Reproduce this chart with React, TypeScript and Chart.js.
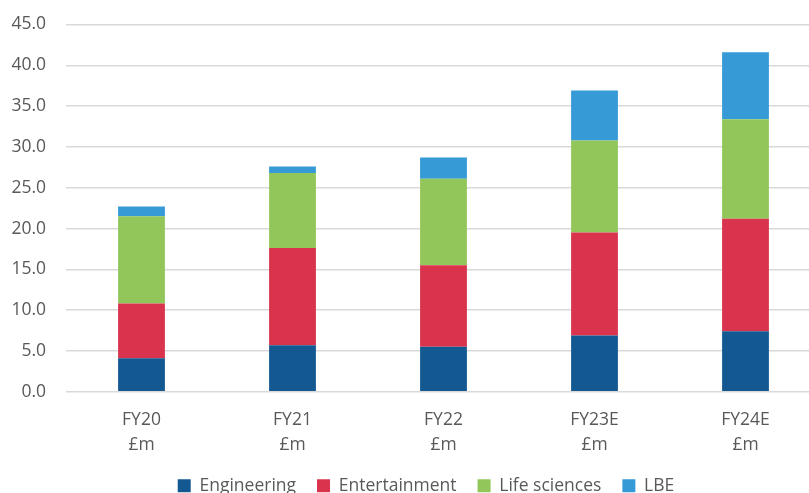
import React, { useEffect, useRef } from "react";
import { Chart, registerables } from "chart.js";

Chart.register(...registerables);

const categories: string[][] = [
  ["FY20", "£m"],
  ["FY21", "£m"],
  ["FY22", "£m"],
  ["FY23E", "£m"],
  ["FY24E", "£m"],
];

const engineering = [4.1, 5.7, 5.5, 6.9, 7.4];
const entertainment = [6.7, 11.9, 10.0, 12.6, 13.8];
const lifeSciences = [10.7, 9.2, 10.6, 11.3, 12.2];
const lbe = [1.2, 0.8, 2.6, 6.1, 8.2];

const seriesNames = ["Engineering", "Entertainment", "Life sciences", "LBE"];
const seriesColors = ["#145891", "#D9334D", "#92C65A", "#359AD6"];

const FONT = "'Open Sans', sans-serif";
const TEXT = "#595959";

const legendShift = {
  id: "legendShift",
  afterLayout(chart: any) {
    const l = chart.legend;
    if (!l) return;
    const dx = 10;
    const dy = -9.5;
    l.left += dx;
    l.right += dx;
    l.top += dy;
    l.bottom += dy;
  },
};

export default function App() {
  const ref = useRef<HTMLCanvasElement>(null);

  useEffect(() => {
    document.body.style.margin = "0";
    document.body.style.overflow = "hidden";
    const values = [engineering, entertainment, lifeSciences, lbe];
    const chart = new Chart(ref.current!, {
      type: "bar",
      data: {
        labels: categories,
        datasets: values.map((v, i) => ({
          label: seriesNames[i],
          data: v,
          backgroundColor: seriesColors[i],
          borderWidth: 0,
          barPercentage: 0.31,
          categoryPercentage: 1,
        })),
      },
      options: {
        animation: false,
        responsive: true,
        maintainAspectRatio: false,
        layout: { padding: { left: 11, right: 0, top: 24.5, bottom: 0 } },
        scales: {
          x: {
            stacked: true,
            grid: { display: false },
            border: { display: false },
            ticks: {
              color: TEXT,
              font: { family: FONT, size: 17.5, lineHeight: 1.45 },
              padding: 7.5,
              maxRotation: 0,
            },
          },
          y: {
            stacked: true,
            min: 0,
            max: 45,
            grid: { color: "#D9D9D9", lineWidth: 1.5, drawTicks: false },
            border: { display: false },
            afterFit: (scale: any) => {
              scale.width = 55;
              scale.paddingTop = 0;
              scale.paddingBottom = 0;
            },
            ticks: {
              stepSize: 5,
              color: TEXT,
              padding: 20,
              font: { family: FONT, size: 17.5 },
              callback: (v: any) => Number(v).toFixed(1),
            },
          },
        },
        plugins: {
          legend: {
            position: "bottom",
            labels: {
              color: TEXT,
              boxWidth: 13,
              boxHeight: 13,
              padding: 21,
              font: { family: FONT, size: 17.5 },
            },
          },
          tooltip: { enabled: false },
        },
      },
      plugins: [legendShift],
    });
    return () => chart.destroy();
  }, []);

  return (
    <div style={{ position: "relative", width: 821, height: 514 }}>
      <canvas ref={ref} />
    </div>
  );
}
